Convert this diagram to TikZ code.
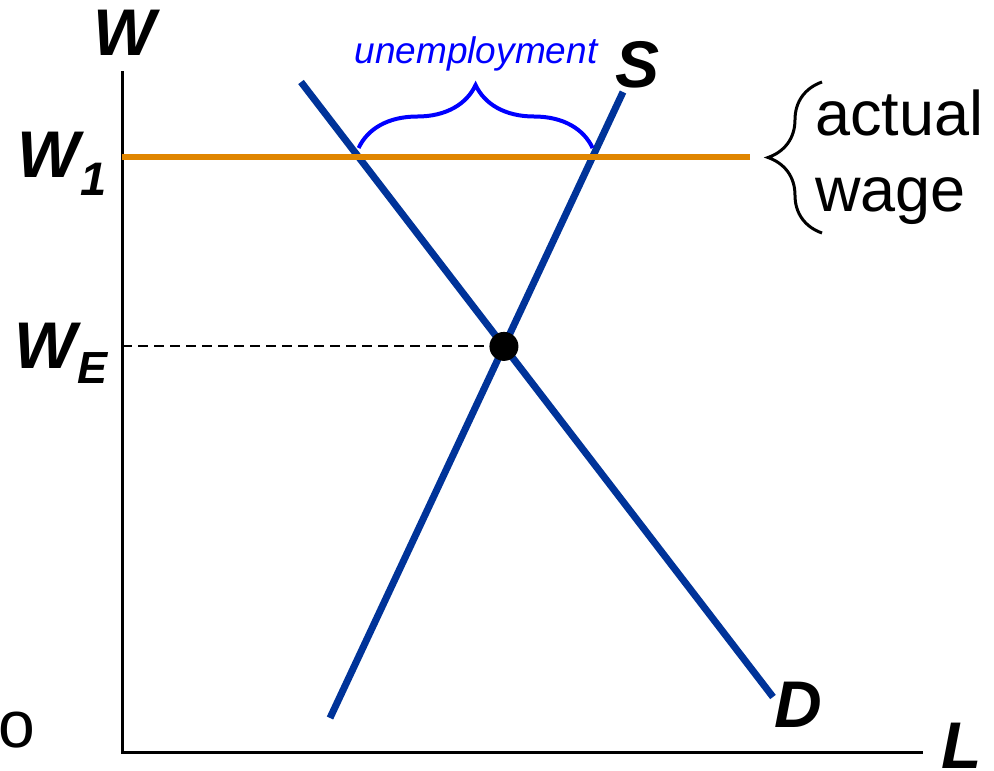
\documentclass[tikz,border=0pt]{standalone}
\usepackage{fontspec}
\setmainfont{Liberation Sans}
\usetikzlibrary{decorations.pathreplacing, calc}
\definecolor{curveblue}{RGB}{0,51,153}
\definecolor{wageorange}{RGB}{224,134,0}

\begin{document}
\begin{tikzpicture}[x=1pt, y=-1pt,
    curve/.style={curveblue, line width=7pt},
    biglab/.style={font=\fontsize{66}{70}\selectfont\bfseries\itshape, inner sep=0pt, anchor=base},
    sublab/.style={font=\fontsize{63}{70}\selectfont, inner sep=0pt, anchor=base west}]
    \useasboundingbox (0,0) rectangle (994,771);

    % Coordinate axes
    \coordinate (O) at (122,752);
    \coordinate (Ytop) at (122,71);
    \coordinate (Xend) at (923,752);
    \draw[line width=3pt] (Ytop) -- (O) -- (Xend);
    \node[biglab] (wlab) at (125,55) {W};
    \node[biglab] (llab) at (962,768) {L};
    \node[font=\fontsize{66}{70}\selectfont, inner sep=0pt, anchor=base] (olab) at (17,747) {o};

    % Demand and supply
    \coordinate (D1) at (301,82);
    \coordinate (D2) at (773,697);
    \coordinate (S1) at (330,718);
    \coordinate (S2) at (623,92);
    \draw[curve] (D1) -- (D2);
    \draw[curve] (S1) -- (S2);
    \node[biglab] (slab) at (638,87) {S};
    \node[biglab] (dlab) at (798,727) {D};

    % Equilibrium
    \coordinate (E) at (intersection of D1--D2 and S1--S2);
    \coordinate (WE) at (O |- E);
    \draw[dash pattern=on 10pt off 6pt, line width=2pt] (WE) -- (E);
    \fill (E) circle[radius=14.5];
    \node[biglab] (welab) at (61,368) {W\raisebox{-15pt}{\fontsize{45}{45}\selectfont E}};

    % Actual wage
    \coordinate (W1) at (122,157);
    \coordinate (W1r) at (750,157);
    \draw[wageorange, line width=6pt] (W1) -- (W1r);
    \node[biglab] (w1lab) at (62,177) {W\raisebox{-18pt}{\fontsize{47}{47}\selectfont 1}};
    \draw[line width=3pt, decorate, decoration={brace, amplitude=54pt}] (822,233) -- (822,82);
    \node[sublab] (actual) at (815,135) {actual};
    \node[sublab] (wage) at (815,211) {wage};

    % Unemployment gap
    \coordinate (U1) at (intersection of W1--W1r and D1--D2);
    \coordinate (U2) at (intersection of W1--W1r and S1--S2);
    \draw[blue, line width=4pt, decorate, decoration={brace, amplitude=63pt}] ([yshift=9pt]U1) -- ([yshift=9pt]U2);
    \node[font=\fontsize{37}{40}\selectfont\itshape, text=blue, inner sep=0pt, anchor=base] (unemp) at (476,63) {unemployment};
\end{tikzpicture}
\end{document}
